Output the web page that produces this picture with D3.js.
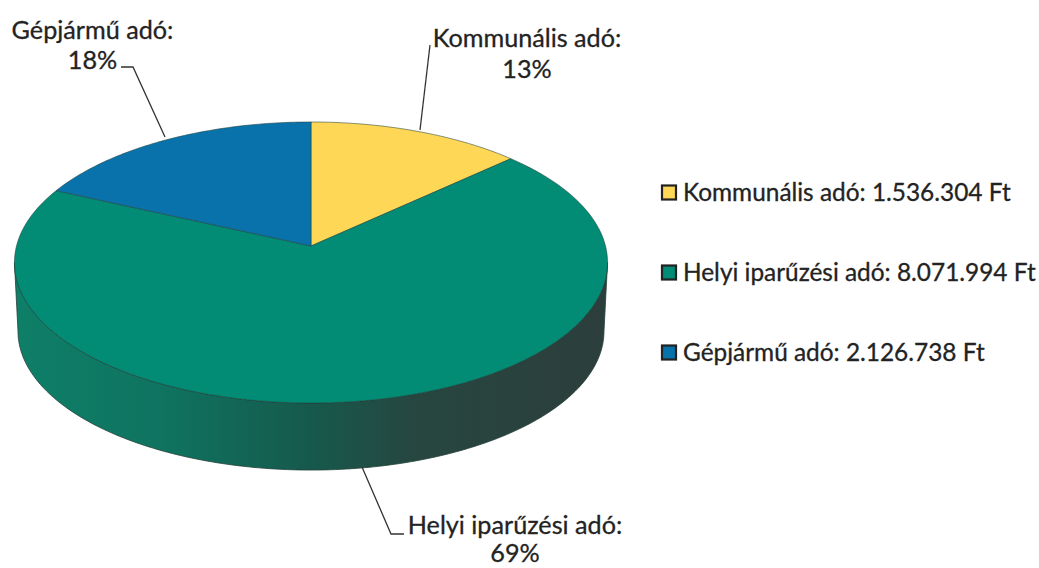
<!DOCTYPE html>
<html>
<head>
<meta charset="utf-8">
<script src="https://cdn.jsdelivr.net/npm/d3@7"></script>
<style>
  html, body { margin: 0; padding: 0; background: #fff; }
  text { font-family: Lato, "Open Sans", sans-serif; fill: #232323; stroke: #232323; stroke-width: 0.3px; }
</style>
</head>
<body>
<div class="chart"></div>
<script>
const categories = ['Kommunális adó', 'Helyi iparűzési adó', 'Gépjármű adó'];
const amounts = [1536304, 8071994, 2126738];
const amountLabels = ['1.536.304 Ft', '8.071.994 Ft', '2.126.738 Ft'];
const percentLabels = ['13%', '69%', '18%'];
const colors = ['#fdd755', '#028c75', '#0a72aa'];

const width = 1039;
const height = 568;

const svg = d3
  .select('.chart')
  .append('svg')
  .attr('width', width)
  .attr('height', height)
  .style('display', 'block');

// tilted disc with a bit of perspective: the near side is drawn larger
const cx = 311;
const cy = 246;
const rx = 294.5;
const ry = 138.6;
const persp = 0.1174;
// the lower rim sits further from the viewer, so it is a little smaller
const depth = 68.9;
const lowerScale = 0.988;

function project(angle) {
  const u = Math.sin(angle);
  const v = -Math.cos(angle);
  const w = 1 - persp * v;
  return [cx + (rx * u) / w, cy + (ry * v) / w];
}

const arcPoints = (a0, a1) => {
  const n = Math.max(2, Math.ceil(Math.abs(a1 - a0) * 60));
  return d3.range(n + 1).map((i) => project(a0 + ((a1 - a0) * i) / n));
};

const line = d3.line();
const slices = d3.pie().sort(null)(amounts);

// gradient on the side wall
const defs = svg.append('defs');
const sideGradient = defs
  .append('linearGradient')
  .attr('id', 'side')
  .attr('x1', 0)
  .attr('x2', 1)
  .attr('y1', 0)
  .attr('y2', 0);
sideGradient.append('stop').attr('offset', 0).attr('stop-color', '#0e7f68');
sideGradient.append('stop').attr('offset', 0.25).attr('stop-color', '#0f7360');
sideGradient.append('stop').attr('offset', 0.5).attr('stop-color', '#16594c');
sideGradient.append('stop').attr('offset', 0.68).attr('stop-color', '#274640');
sideGradient.append('stop').attr('offset', 1).attr('stop-color', '#2c3e3b');

// side wall, from the left extreme round the near edge to the right extreme
const sideStart = Math.acos(-persp);
const nearEdge = arcPoints(sideStart, 2 * Math.PI - sideStart);
const lowerEdge = nearEdge
  .map((p) => [cx + (p[0] - cx) * lowerScale, cy + (p[1] - cy) * lowerScale + depth])
  .reverse();
svg
  .append('path')
  .attr('d', line(nearEdge.concat(lowerEdge)) + 'Z')
  .attr('fill', 'url(#side)')
  .attr('stroke', '#234039')
  .attr('stroke-width', 0.8);

// top face
svg
  .append('g')
  .selectAll('path')
  .data(slices)
  .join('path')
  .attr('d', (d) => line([[cx, cy], ...arcPoints(d.startAngle, d.endAngle)]) + 'Z')
  .attr('fill', (d, i) => colors[i])
  .attr('stroke', '#1f3f3a')
  .attr('stroke-opacity', 0.6)
  .attr('stroke-width', 0.9);

// leader lines
const leaders = [
  [[430, 45], [420, 130]],
  [[362, 467], [391, 534], [404, 534]],
  [[121, 67], [133, 67], [165, 137]],
];
svg
  .append('g')
  .selectAll('path')
  .data(leaders)
  .join('path')
  .attr('d', (d) => line(d))
  .attr('fill', 'none')
  .attr('stroke', '#333')
  .attr('stroke-width', 1.3);

// data labels
const labelPos = [
  { x: 527, y: 47, y2: 78 },
  { x: 515, y: 534, y2: 562 },
  { x: 92.5, y: 39, y2: 69 },
];
const labels = svg
  .append('g')
  .selectAll('text')
  .data(categories)
  .join('text')
  .attr('text-anchor', 'middle')
  .attr('font-size', 25.2);
labels
  .append('tspan')
  .attr('x', (d, i) => labelPos[i].x)
  .attr('y', (d, i) => labelPos[i].y)
  .text((d) => d + ':');
labels
  .append('tspan')
  .attr('x', (d, i) => labelPos[i].x)
  .attr('y', (d, i) => labelPos[i].y2)
  .text((d, i) => percentLabels[i]);

// legend
const legendY = d3.scalePoint().domain(categories).range([201, 361]);
const legend = svg
  .append('g')
  .selectAll('g')
  .data(categories)
  .join('g')
  .attr('transform', (d) => 'translate(661,' + legendY(d) + ')');
legend
  .append('rect')
  .attr('x', 1)
  .attr('y', -15.5)
  .attr('width', 14)
  .attr('height', 14)
  .attr('fill', (d, i) => colors[i])
  .attr('stroke', '#222')
  .attr('stroke-width', 2.2);
legend
  .append('text')
  .attr('x', 22)
  .attr('font-size', 24.4)
  .text((d, i) => d + ': ' + amountLabels[i]);
</script>
</body>
</html>
